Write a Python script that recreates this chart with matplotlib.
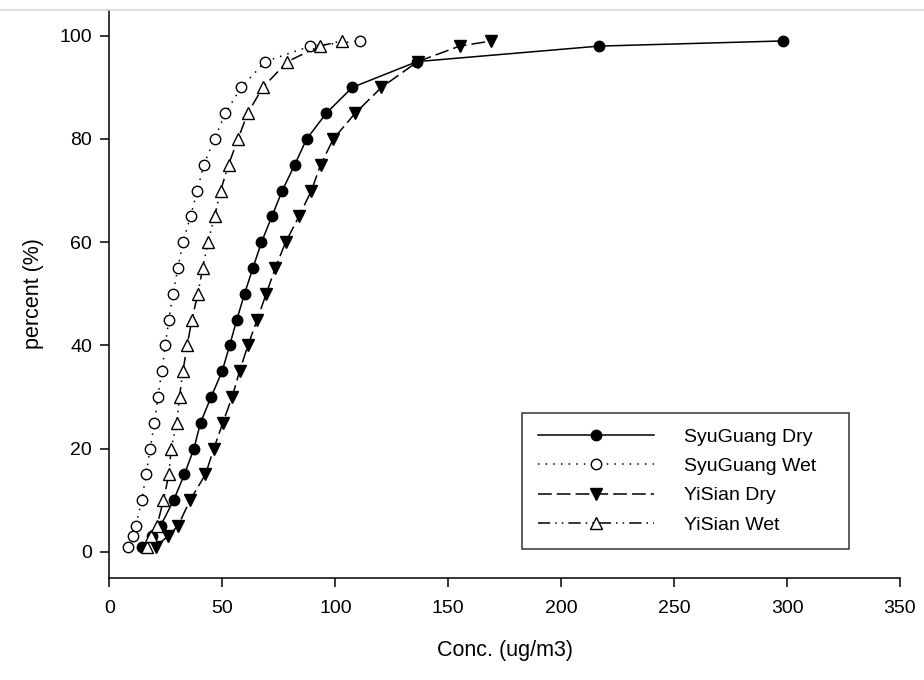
import matplotlib.pyplot as plt
from matplotlib.lines import Line2D

# cumulative percent levels shared by all four series
percent = [1, 3, 5, 10, 15, 20, 25, 30, 35, 40, 45, 50, 55, 60, 65, 70, 75, 80, 85, 90, 95, 98, 99]

# concentration (ug/m3) at each percent level
syuguang_dry = [14.5, 18.8, 22.6, 28.4, 33.2, 37.4, 40.3, 45.0, 49.9, 53.2, 56.4, 59.8,
                63.5, 67.3, 71.9, 76.5, 82.0, 87.3, 96.0, 107.5, 136.2, 216.7, 298.0]
syuguang_wet = [8.2, 10.2, 11.6, 14.3, 16.2, 18.0, 19.9, 21.4, 23.2, 24.7, 26.3, 28.1,
                30.3, 32.5, 35.9, 38.9, 41.7, 46.5, 51.3, 58.3, 69.0, 88.9, 110.8]
yisian_dry = [20.5, 25.8, 30.3, 35.7, 42.5, 46.2, 50.2, 54.3, 57.6, 61.3, 65.4, 69.4,
              73.4, 78.0, 83.9, 89.4, 93.5, 99.1, 108.8, 120.4, 136.5, 155.0, 169.1]
yisian_wet = [16.5, 18.5, 21.0, 23.9, 26.3, 27.3, 29.8, 31.0, 32.5, 34.4, 36.5, 39.1,
              41.3, 43.6, 46.5, 49.2, 52.7, 56.9, 61.2, 67.9, 78.8, 93.0, 102.9]

x_ticks = [0, 50, 100, 150, 200, 250, 300, 350]
y_ticks = [0, 20, 40, 60, 80, 100]

plt.rcParams['font.family'] = ['Liberation Sans', 'DejaVu Sans']

fig = plt.figure(figsize=(9.24, 6.8), dpi=100)
ax = fig.add_axes([0.1185, 0.1507, 0.8555, 0.8346])

lw = 1.1
ax.plot(syuguang_dry, percent, color='black', linewidth=lw, linestyle='-',
        marker='o', markersize=7.5, markerfacecolor='black', markeredgecolor='black',
        label='SyuGuang Dry')
ax.plot(syuguang_wet, percent, color='black', linewidth=lw, linestyle=(0, (1, 4)),
        marker='o', markersize=7.5, markerfacecolor='white', markeredgecolor='black',
        markeredgewidth=1.0, label='SyuGuang Wet')
ax.plot(yisian_dry, percent, color='black', linewidth=lw, linestyle=(0, (9, 3.3)),
        marker='v', markersize=9, markerfacecolor='black', markeredgecolor='black',
        label='YiSian Dry')
ax.plot(yisian_wet, percent, color='black', linewidth=lw,
        linestyle=(0, (8, 3.3, 1, 3.3, 1, 3.3)),
        marker='^', markersize=9, markerfacecolor='white', markeredgecolor='black',
        markeredgewidth=1.0, label='YiSian Wet')

ax.set_xlim(0, 350)
ax.set_ylim(-5, 105)
ax.set_xticks(x_ticks)
ax.set_yticks(y_ticks)

for side in ['top', 'right']:
    ax.spines[side].set_visible(False)
for side in ['left', 'bottom']:
    ax.spines[side].set_linewidth(1.1)

ax.tick_params(axis='both', direction='out', length=6.5, width=1.1, labelsize=14)
ax.tick_params(axis='x', pad=10)
ax.tick_params(axis='y', pad=6)

ax.set_xlabel('Conc. (ug/m3)', fontsize=15.5, labelpad=16)
ax.set_ylabel('percent (%)', fontsize=15.5, labelpad=11)

leg = ax.legend(loc='lower left', bbox_to_anchor=(0.522, 0.050, 0.4135, 0.25),
                mode='expand', borderaxespad=0, fontsize=14, handlelength=6.0,
                handletextpad=1.5, labelspacing=0.6, borderpad=0.8,
                fancybox=False, frameon=True)
leg.get_frame().set_edgecolor('black')
leg.get_frame().set_linewidth(1.1)

# faint rule along the top edge
fig.add_artist(Line2D([0, 1], [0.985, 0.985], transform=fig.transFigure,
                      color='#d8d8d8', linewidth=1.2))

fig.savefig('out.png', dpi=100)
